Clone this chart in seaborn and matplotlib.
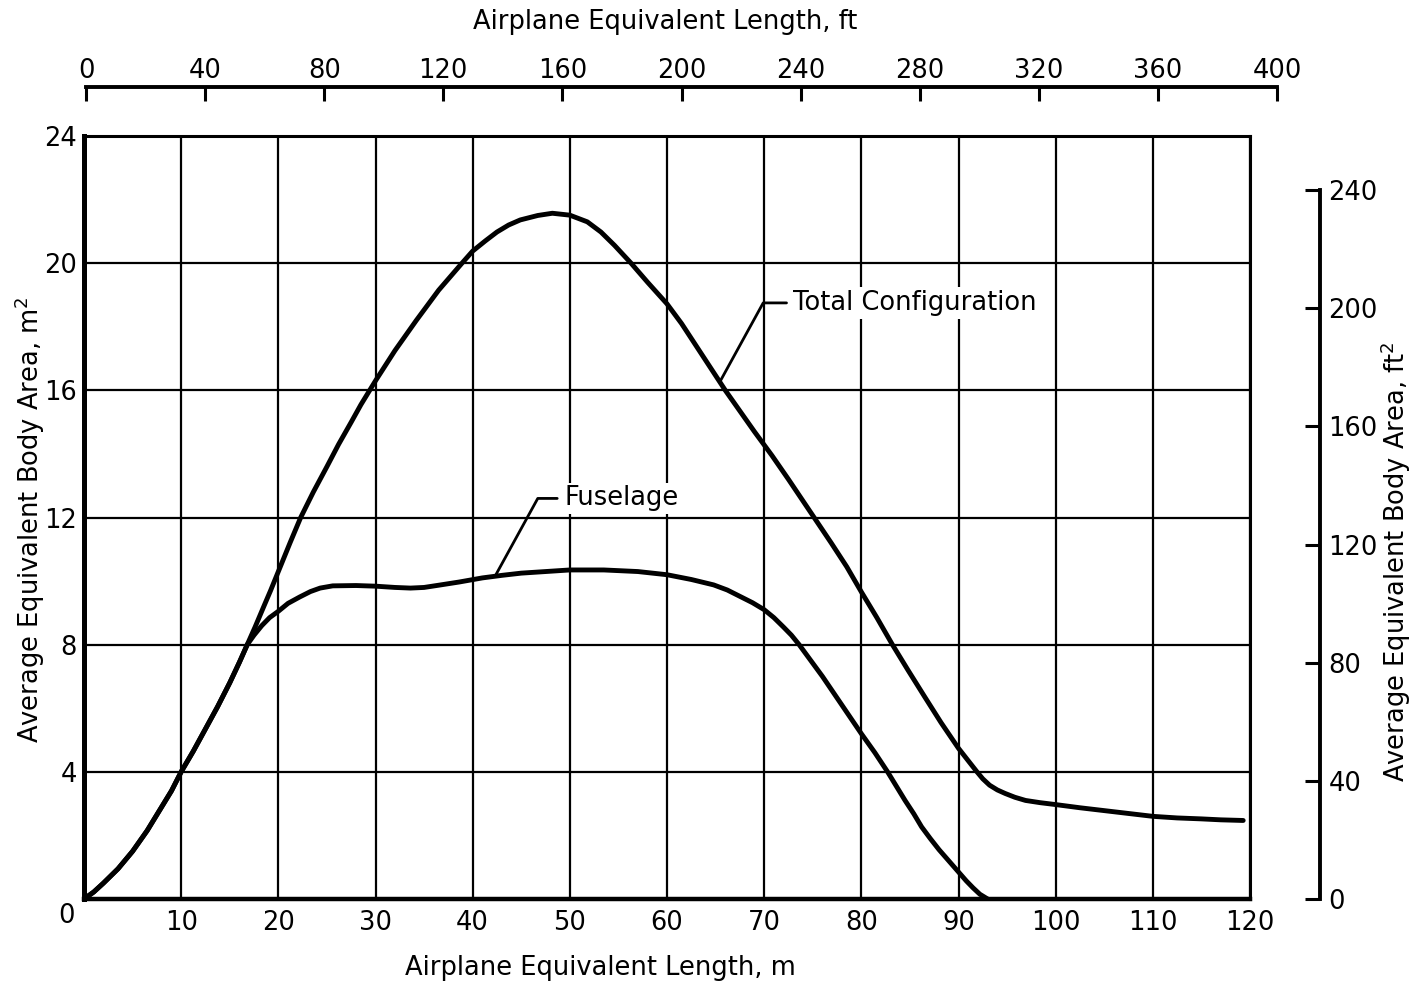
import numpy as np
import pandas as pd
import matplotlib
matplotlib.use("Agg")
import matplotlib.pyplot as plt
import seaborn as sns

# Equivalent body area distribution (m^2) along the airplane length (m)
total_len = [0, 1, 2, 3.5, 5, 6.5, 8, 9, 10, 11.25, 12.5, 13.75, 15, 16, 16.8,
             17.6, 18.5, 19.2, 20, 21.2, 22.3, 23.6, 25, 26.2, 27.5, 28.5,
             29.4, 30, 32, 34.2, 36.5, 38.9, 40, 41.3, 42.5, 43.7, 44.9, 46.7,
             48.2, 50, 51.8, 53.2, 54.6, 56.3, 58, 60, 61.5, 63, 64.5,
             66, 67.5, 69, 70.8, 72.5, 74.7, 76.9, 78.5, 80, 81.6, 83.2, 84.8,
             86.5, 88.2, 90, 91, 91.9, 92.5, 93.2, 94, 94.8, 95.8, 96.9, 98.4,
             100, 102.5, 105, 107.5, 110, 112.5, 115, 117, 119.3]
total_area = [0, 0.22, 0.5, 0.95, 1.5, 2.15, 2.9, 3.4, 4.0, 4.65, 5.35, 6.05,
              6.8, 7.45, 8.0, 8.55, 9.2, 9.7, 10.3, 11.2, 12.0, 12.8, 13.6,
              14.3, 15.0, 15.55, 16.0, 16.3, 17.25, 18.2, 19.15, 20.0, 20.38,
              20.7, 20.98, 21.2, 21.36, 21.5, 21.57, 21.51, 21.3, 20.98, 20.56,
              20.0, 19.4, 18.72, 18.1, 17.4, 16.7,
              16.0, 15.35, 14.7, 13.95, 13.2, 12.2, 11.2, 10.45, 9.66, 8.85,
              8.0, 7.2, 6.37, 5.55, 4.74, 4.35, 4.0, 3.78, 3.58, 3.43, 3.32,
              3.2, 3.1, 3.03, 2.97, 2.87, 2.78, 2.69, 2.6, 2.55, 2.52, 2.49,
              2.47]

fuse_len = [0, 1, 2, 3.5, 5, 6.5, 8, 9, 10, 11.25, 12.5, 13.75, 15, 16, 16.8,
            17.5, 18.3, 19.1, 20, 21, 22.2, 23.3, 24.3, 25.6, 28, 30, 32, 33.6,
            35, 36.5, 38.6, 41, 43, 45, 47.5, 50, 53.5, 57, 60, 62.5, 64.8,
            66.2, 67.5, 68.8, 70, 71, 72, 72.8, 73.6, 74.8, 76, 77, 78, 79,
            80, 81.4, 82.7, 83.6, 84.5, 85.4, 86.2, 87.1, 88, 89, 90, 90.8,
            91.5, 92.2, 93]
fuse_area = [0, 0.22, 0.5, 0.95, 1.5, 2.15, 2.9, 3.4, 4.0, 4.65, 5.35, 6.05,
             6.8, 7.45, 8.0, 8.3, 8.6, 8.85, 9.05, 9.3, 9.5, 9.67, 9.78, 9.85,
             9.86, 9.84, 9.8, 9.78, 9.8, 9.87, 9.97, 10.1, 10.18, 10.25, 10.3,
             10.35, 10.35, 10.3, 10.2, 10.05, 9.88, 9.72, 9.52, 9.32, 9.1,
             8.85, 8.55, 8.3, 8.0, 7.5, 7.0, 6.55, 6.1, 5.65, 5.2, 4.6, 4.0,
             3.55, 3.1, 2.68, 2.27, 1.9, 1.55, 1.2, 0.85, 0.57, 0.35, 0.15, 0]

x_ticks_m = list(range(10, 121, 10))
y_ticks_m2 = [4, 8, 12, 16, 20, 24]
top_ticks_ft = list(range(0, 401, 40))
right_ticks_ft2 = [0, 40, 80, 120, 160, 200, 240]

M2_TO_FT2 = 10.7639

df = pd.concat([
    pd.DataFrame({"length": total_len, "area": total_area, "series": "Total Configuration"}),
    pd.DataFrame({"length": fuse_len, "area": fuse_area, "series": "Fuselage"}),
])

sns.set_style("white")
plt.rcParams["font.family"] = ["DejaVu Sans"]
plt.rcParams.update({"text.color": "black", "axes.labelcolor": "black",
                     "xtick.color": "black", "ytick.color": "black"})
FS = 18.5

W, H = 1415, 989
fig = plt.figure(figsize=(W / 100, H / 100), dpi=100)

left_px, right_px, top_px, bottom_px = 84, 1250, 136, 899
ax = fig.add_axes([left_px / W, 1 - bottom_px / H,
                   (right_px - left_px) / W, (bottom_px - top_px) / H])

sns.lineplot(data=df, x="length", y="area", hue="series", units="series",
             estimator=None, sort=False,
             palette={"Total Configuration": "black", "Fuselage": "black"},
             linewidth=3.5, legend=False, ax=ax, zorder=3,
             solid_joinstyle="round", solid_capstyle="round")

ax.set_xlim(0, 120)
ax.set_ylim(0, 24)
ax.set_xticks(x_ticks_m)
ax.set_xticklabels([str(v) for v in x_ticks_m], fontsize=FS)
ax.set_yticks(y_ticks_m2)
ax.set_yticklabels([str(v) for v in y_ticks_m2], fontsize=FS)
ax.tick_params(axis="both", length=0, colors="black")
ax.tick_params(axis="x", pad=8)
ax.tick_params(axis="y", pad=5)
ax.grid(True, color="black", linewidth=1.6)
ax.set_axisbelow(True)
for side, lw in {"left": 3.6, "bottom": 3.2, "top": 2.2, "right": 2.2}.items():
    ax.spines[side].set_visible(True)
    ax.spines[side].set_color("black")
    ax.spines[side].set_linewidth(lw)
ax.set_xlabel("")
ax.set_ylabel("")

ax.annotate("0", xy=(0, 0), xycoords="data", xytext=(-17, -17),
            textcoords="offset pixels", ha="center", va="center", fontsize=FS)

# leader lines and curve labels
lab_box = dict(facecolor="white", edgecolor="none", pad=2)
ax.plot([65.5, 69.9, 72.3], [16.3, 18.75, 18.75], color="black", lw=2.0, zorder=4)
ax.text(73.0, 18.75, "Total Configuration", fontsize=FS, ha="left",
        va="center", bbox=lab_box, zorder=5)
ax.plot([42.3, 46.7, 48.7], [10.15, 12.6, 12.6], color="black", lw=2.0, zorder=4)
ax.text(49.5, 12.6, "Fuselage", fontsize=FS, ha="left", va="center",
        bbox=lab_box, zorder=5)

# top scale in feet
top_left, top_right, top_y = 86, 1277, 87
axt = fig.add_axes([top_left / W, 1 - top_y / H, (top_right - top_left) / W, 0.0005])
axt.set_xlim(0, 400)
axt.set_ylim(0, 1)
axt.patch.set_visible(False)
for side in ["left", "right", "bottom"]:
    axt.spines[side].set_visible(False)
axt.spines["top"].set_linewidth(2.8)
axt.spines["top"].set_color("black")
axt.set_yticks([])
axt.set_xticks(top_ticks_ft)
axt.set_xticklabels([str(v) for v in top_ticks_ft], fontsize=FS)
axt.tick_params(axis="x", top=True, bottom=False, labeltop=True,
                labelbottom=False, direction="in", length=10, width=2.2, pad=2)

# right scale in square feet
right_x = 1320
axr = fig.add_axes([right_x / W - 0.0005, 1 - bottom_px / H, 0.0005,
                    (bottom_px - top_px) / H])
axr.set_ylim(0, 24 * M2_TO_FT2)
axr.patch.set_visible(False)
for side in ["left", "top", "bottom"]:
    axr.spines[side].set_visible(False)
axr.spines["right"].set_linewidth(2.8)
axr.spines["right"].set_color("black")
axr.spines["right"].set_bounds(0, 240)
axr.set_xticks([])
axr.yaxis.tick_right()
axr.set_yticks(right_ticks_ft2)
axr.set_yticklabels([str(v) for v in right_ticks_ft2], fontsize=FS)
axr.tick_params(axis="y", direction="in", length=11, width=2.2, pad=6)

# axis titles
fig.text(665 / W, 1 - 22 / H, "Airplane Equivalent Length, ft", fontsize=FS,
         ha="center", va="center")
fig.text(600 / W, 1 - 968 / H, "Airplane Equivalent Length, m", fontsize=FS,
         ha="center", va="center")
fig.text(30 / W, 1 - 520 / H, "Average Equivalent Body Area, m$^2$", fontsize=FS,
         ha="center", va="center", rotation=90)
fig.text(1396 / W, 1 - 562 / H, "Average Equivalent Body Area, ft$^2$", fontsize=FS,
         ha="center", va="center", rotation=90)

fig.savefig("out.png", dpi=100, facecolor="white")
